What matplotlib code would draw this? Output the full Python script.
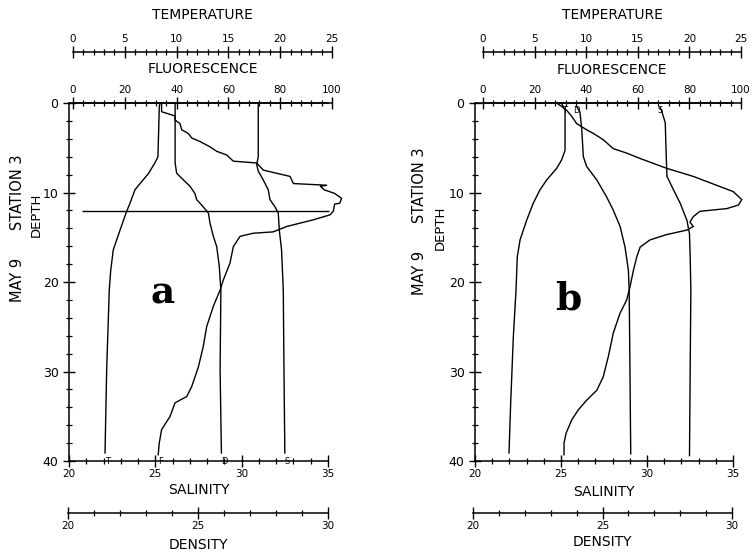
import matplotlib.pyplot as plt
from matplotlib.ticker import MultipleLocator

# ---- values (depth in m) ----
# panel a
a_temp_depth = [0.0, 0.4, 6.0, 6.7, 7.9, 9.0, 9.7, 11.2, 12.1, 14.2, 16.4, 18.7, 20.9, 29.8, 39.1]
a_temp = [8.4, 8.33, 8.2, 7.9, 7.27, 6.47, 5.98, 5.5, 5.18, 4.54, 3.89, 3.64, 3.5, 3.25, 3.09]

a_fluo_depth = [0.0, 0.97, 1.45, 1.9, 2.3, 3.0, 3.4, 3.9, 4.3, 4.9, 5.4, 5.8, 6.5, 6.7, 7.5,
                7.85, 8.2, 9.0, 9.15, 9.2, 9.3, 9.7, 10.1, 10.65, 11.2, 11.3, 12.1, 12.5, 13.05,
                13.8, 14.4, 14.55, 14.9, 16.05, 17.9, 19.8, 20.9, 22.7, 25.0, 27.2, 29.5, 31.7,
                32.8, 33.5, 35.0, 36.5, 38.0, 39.3]
a_fluo = [34.2, 34.2, 39.4, 39.4, 41.3, 42.0, 44.5, 45.8, 49.0, 52.9, 55.5, 59.3, 61.9, 70.9, 73.5,
          78.6, 83.8, 85.1, 95.4, 97.9, 95.5, 97.0, 101.0, 103.7, 103.0, 101.0, 100.5, 99.2, 92.8,
          82.5, 77.3, 69.6, 64.5, 61.9, 60.6, 58.0, 56.8, 54.2, 51.6, 50.3, 48.4, 45.8,
          43.9, 39.4, 37.5, 34.2, 33.3, 32.9]

a_dens_depth = [0.0, 6.0, 6.7, 7.85, 8.4, 9.3, 10.1, 10.8, 11.6, 12.3, 13.4, 14.9, 16.05, 18.3, 20.9, 29.8, 39.1]
a_dens = [24.12, 24.12, 24.12, 24.18, 24.37, 24.69, 24.88, 24.95, 25.2, 25.4, 25.46, 25.59, 25.72,
          25.82, 25.88, 25.85, 25.9]

a_sal_depth = [0.0, 6.0, 6.9, 7.6, 8.6, 9.7, 10.8, 11.6, 12.3, 14.2, 16.4, 20.9, 29.8, 39.1]
a_sal = [30.96, 30.96, 30.87, 30.96, 31.25, 31.54, 31.64, 31.93, 32.12, 32.18, 32.31, 32.41, 32.45, 32.5]

a_mark_depth = 12.1
a_mark_span = [3.5, 99.0]

# panel b
b_temp_depth = [0.0, 0.8, 5.3, 6.4, 7.3, 8.6, 9.7, 11.2, 13.1, 15.3, 17.2, 20.9, 26.1, 33.6, 39.1]
b_temp = [7.6, 7.95, 7.95, 7.6, 7.14, 6.17, 5.52, 4.87, 4.23, 3.59, 3.32, 3.2, 2.94, 2.68, 2.52]

b_fluo_depth = [0.0, 0.8, 1.5, 2.3, 3.0, 3.4, 4.1, 5.1, 5.6, 6.2, 7.3, 8.2, 9.2, 9.9, 10.8,
                11.4, 11.8, 12.1, 12.7, 13.3, 13.8, 14.2, 14.7, 15.3, 16.1, 17.2, 18.7, 20.5,
                22.0, 23.5, 25.7, 28.3, 30.6, 32.1, 33.2, 34.3, 35.4, 36.9, 38.0, 39.3]
b_fluo = [28.6, 32.4, 34.4, 36.3, 40.2, 42.8, 46.6, 50.5, 55.7, 60.9, 71.2, 81.5, 90.6, 97.0, 100.3,
          99.0, 94.5, 84.1, 81.5, 80.2, 81.5, 79.0, 71.2, 64.7, 60.9, 59.6, 58.3, 57.0,
          55.7, 53.1, 50.5, 48.6, 46.6, 44.1, 40.2, 36.9, 34.4, 32.2, 31.4, 31.4]

b_dens_depth = [0.4, 1.0, 3.0, 6.0, 7.1, 8.6, 10.5, 12.0, 13.8, 16.1, 18.7, 20.9, 29.8, 39.2]
b_dens = [24.0, 24.13, 24.2, 24.26, 24.39, 24.78, 25.16, 25.42, 25.68, 25.87, 26.0, 26.03, 26.06, 26.09]

b_sal_depth = [0.5, 1.0, 2.2, 6.0, 8.2, 9.7, 11.2, 13.1, 14.6, 17.2, 20.9, 29.8, 39.4]
b_sal = [30.77, 30.87, 31.06, 31.12, 31.16, 31.54, 31.93, 32.32, 32.47, 32.51, 32.55, 32.51, 32.47]

W, H = 754, 555
fig = plt.figure(figsize=(W / 100, H / 100), dpi=100)


def rect(x0, x1, y0=103, y1=461):
    return [x0 / W, 1 - y1 / H, (x1 - x0) / W, (y1 - y0) / H]


def px(x, y):
    return x / W, 1 - y / H


def scale_axis(r, lim, major, minor, side, label, label_y, outward=0, main=None):
    ax = fig.add_axes(r, sharey=main)
    ax.patch.set_visible(False)
    for s in ax.spines.values():
        s.set_visible(False)
    ax.spines[side].set_visible(True)
    ax.spines[side].set_position(("outward", outward))
    ax.spines[side].set_linewidth(1.1)
    ax.set_xlim(lim)
    ax.xaxis.set_ticks_position(side)
    ax.xaxis.set_label_position(side)
    ax.xaxis.set_major_locator(MultipleLocator(major))
    ax.xaxis.set_minor_locator(MultipleLocator(minor))
    ax.tick_params(axis="x", which="major", direction="inout", length=8, width=1,
                   labelsize=7.5, pad=2)
    ax.tick_params(axis="x", which="minor", direction="inout", length=5, width=0.9)
    ax.tick_params(axis="y", which="both", left=False, labelleft=False)
    ax.set_xlabel(label, fontsize=10)
    ax.xaxis.set_label_coords(0.5, label_y)
    return ax


def panel(xs, temp, fluo, dens, sal, ly):
    main_x, top_x, dens_x = xs
    main = scale_axis(rect(*main_x), (20, 35), 5, 1, "bottom", "SALINITY", ly[0])
    main.spines["left"].set_visible(True)
    main.spines["top"].set_visible(True)
    main.spines["left"].set_linewidth(1.1)
    main.spines["top"].set_linewidth(1.1)
    main.set_ylim(40, 0)
    main.yaxis.set_major_locator(MultipleLocator(10))
    main.yaxis.set_minor_locator(MultipleLocator(2))
    main.tick_params(axis="y", which="major", left=True, labelleft=True, direction="inout",
                     length=9, width=1, labelsize=9, pad=3)
    main.tick_params(axis="y", which="minor", left=True, direction="inout", length=5, width=0.9)

    ax_f = scale_axis(rect(*top_x), (0, 100), 20, 4, "top", "FLUORESCENCE", ly[1], main=main)
    ax_t = scale_axis(rect(*top_x), (0, 25), 5, 1, "top", "TEMPERATURE", ly[2], outward=36.7, main=main)
    ax_d = scale_axis(rect(*dens_x), (20, 30), 5, 1, "bottom", "DENSITY", ly[3], outward=37.4, main=main)

    ax_t.plot(temp[1], temp[0], color="k", lw=1, clip_on=False)
    ax_f.plot(fluo[1], fluo[0], color="k", lw=1, clip_on=False)
    ax_d.plot(dens[1], dens[0], color="k", lw=1, clip_on=False)
    main.plot(sal[1], sal[0], color="k", lw=1, clip_on=False)
    return main, ax_t, ax_f, ax_d


# ---- panel a ----
main_a, t_a, f_a, d_a = panel(((69, 328), (73, 332), (68, 328)),
                              (a_temp_depth, a_temp), (a_fluo_depth, a_fluo),
                              (a_dens_depth, a_dens), (a_sal_depth, a_sal),
                              (-0.061, 1.085, 1.235, -0.215))
f_a.hlines(a_mark_depth, a_mark_span[0], a_mark_span[1], color="k", lw=1)
for ax, xv, lab in [(t_a, a_temp[-1], "T"), (f_a, a_fluo[-1], "F"),
                    (d_a, a_dens[-1], "D"), (main_a, a_sal[-1], "S")]:
    ax.text(xv, 40, lab, fontsize=6, ha="left", va="center", clip_on=False)

# ---- panel b ----
main_b, t_b, f_b, d_b = panel(((475, 733), (483, 741), (473, 732)),
                              (b_temp_depth, b_temp), (b_fluo_depth, b_fluo),
                              (b_dens_depth, b_dens), (b_sal_depth, b_sal),
                              (-0.067, 1.08, 1.236, -0.207))
for ax, xv, lab in [(t_b, b_temp[1], "T"), (d_b, b_dens[0], "D"), (main_b, b_sal[0], "S")]:
    ax.text(xv, 0.3, lab, fontsize=6, ha="center", va="top", clip_on=False)

# ---- side labels and panel letters ----
for x_st, y_st, x_dp, y_dp in [(18, 228, 36, 215), (420, 221, 440, 228)]:
    fig.text(*px(x_st, y_st), "MAY 9      STATION 3", rotation=90, fontsize=10.5,
             ha="center", va="center")
    fig.text(*px(x_dp, y_dp), "DEPTH", rotation=90, fontsize=9.5, ha="center", va="center")

fig.text(*px(163, 303), "a", fontsize=27, fontweight="bold", family="DejaVu Serif",
         ha="center", va="baseline")
fig.text(*px(568, 310), "b", fontsize=27, fontweight="bold", family="DejaVu Serif",
         ha="center", va="baseline")

fig.savefig("out.png", dpi=100)
